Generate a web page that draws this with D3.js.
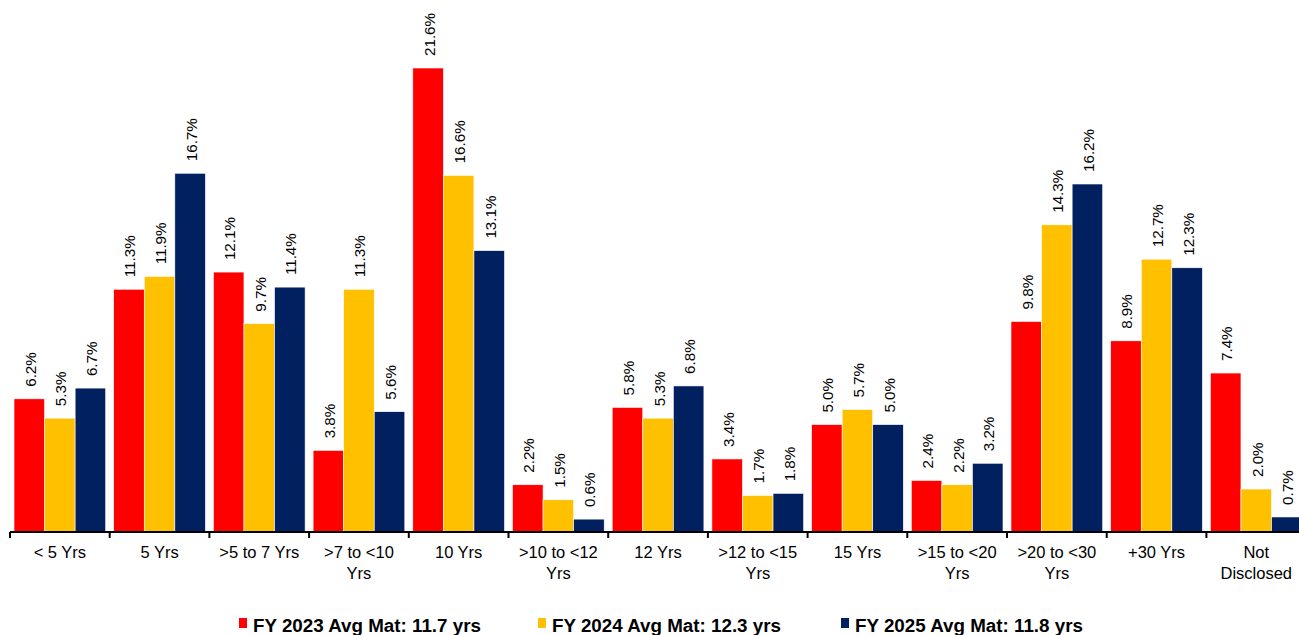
<!DOCTYPE html>
<html>
<head>
<meta charset="utf-8">
<script src="https://cdn.jsdelivr.net/npm/d3@7"></script>
<style>
  html, body { margin: 0; padding: 0; background: #fff; }
  svg { display: block; font-family: Arial, "Liberation Sans", sans-serif; }
</style>
</head>
<body>
<svg id="chart" width="1299" height="635"></svg>
<script>
const categories = ["< 5 Yrs", "5 Yrs", ">5 to 7 Yrs", ">7 to <10|Yrs", "10 Yrs", ">10 to <12|Yrs", "12 Yrs", ">12 to <15|Yrs", "15 Yrs", ">15 to <20|Yrs", ">20 to <30|Yrs", "+30 Yrs", "Not|Disclosed"];
const seriesNames = ["FY 2023 Avg Mat: 11.7 yrs", "FY 2024 Avg Mat: 12.3 yrs", "FY 2025 Avg Mat: 11.8 yrs"];
const fy2023 = [6.2, 11.3, 12.1, 3.8, 21.6, 2.2, 5.8, 3.4, 5.0, 2.4, 9.8, 8.9, 7.4];
const fy2024 = [5.3, 11.9, 9.7, 11.3, 16.6, 1.5, 5.3, 1.7, 5.7, 2.2, 14.3, 12.7, 2.0];
const fy2025 = [6.7, 16.7, 11.4, 5.6, 13.1, 0.6, 6.8, 1.8, 5.0, 3.2, 16.2, 12.3, 0.7];
const colors = ["#FF0000", "#FFC000", "#002060"];

const seriesValues = [fy2023, fy2024, fy2025];
const svg = d3.select("#chart");

const x0 = d3.scaleBand().domain(categories).range([10, 10 + 13 * 99.7]).padding(0);
const bw = x0.bandwidth();
const x1 = d3.scaleBand().domain(d3.range(3)).range([4, bw - 4]).padding(0);
const y = d3.scaleLinear().domain([0, 21.6]).range([532, 68]);

const groups = svg.append("g").selectAll("g")
  .data(categories)
  .join("g")
  .attr("transform", d => `translate(${x0(d)},0)`);

groups.each(function(cat, ci) {
  const g = d3.select(this);
  seriesValues.forEach((vals, si) => {
    const v = vals[ci];
    g.append("rect")
      .attr("x", x1(si))
      .attr("width", x1.bandwidth())
      .attr("y", y(v))
      .attr("height", y(0) - y(v))
      .attr("fill", colors[si])
      .attr("stroke", "#ffffff")
      .attr("stroke-width", 0.6);
    const cx = x1(si) + x1.bandwidth() / 2 + 1;
    const ty = y(v) - 12;
    g.append("text")
      .attr("transform", `translate(${cx},${ty}) rotate(-90)`)
      .attr("text-anchor", "start")
      .attr("dominant-baseline", "central")
      .attr("font-size", "15.2px")
      .attr("fill", "#000")
      .text(v.toFixed(1) + "%");
  });
});

// x axis
const axis = svg.append("g");
axis.append("line")
  .attr("x1", x0.range()[0]).attr("x2", x0.range()[1])
  .attr("y1", y(0)).attr("y2", y(0))
  .attr("stroke", "#000").attr("stroke-width", 2);
const tickXs = categories.map(c => x0(c)).concat([x0.range()[1]]);
axis.selectAll("line.tick")
  .data(tickXs)
  .join("line")
  .attr("class", "tick")
  .attr("x1", d => d).attr("x2", d => d)
  .attr("y1", y(0)).attr("y2", y(0) + 6)
  .attr("stroke", "#000").attr("stroke-width", 2);

axis.selectAll("text.cat")
  .data(categories)
  .join("text")
  .attr("class", "cat")
  .attr("x", d => x0(d) + bw / 2)
  .attr("y", 558)
  .attr("text-anchor", "middle")
  .attr("font-size", "16.5px")
  .attr("fill", "#000")
  .each(function(d) {
    const parts = d.split("|");
    const t = d3.select(this);
    parts.forEach((p, i) => {
      t.append("tspan")
        .attr("x", x0(d) + bw / 2)
        .attr("dy", i === 0 ? 0 : 21)
        .text(p);
    });
  });

// legend
const legendX = [239, 538, 841];
const legend = svg.append("g");
seriesNames.forEach((name, i) => {
  legend.append("rect")
    .attr("x", legendX[i]).attr("y", 618)
    .attr("width", 8).attr("height", 10)
    .attr("fill", colors[i]);
  legend.append("text")
    .attr("x", legendX[i] + 14).attr("y", 632)
    .attr("font-size", "18.8px")
    .attr("font-weight", "bold")
    .attr("fill", "#000")
    .text(name);
});
</script>
</body>
</html>
